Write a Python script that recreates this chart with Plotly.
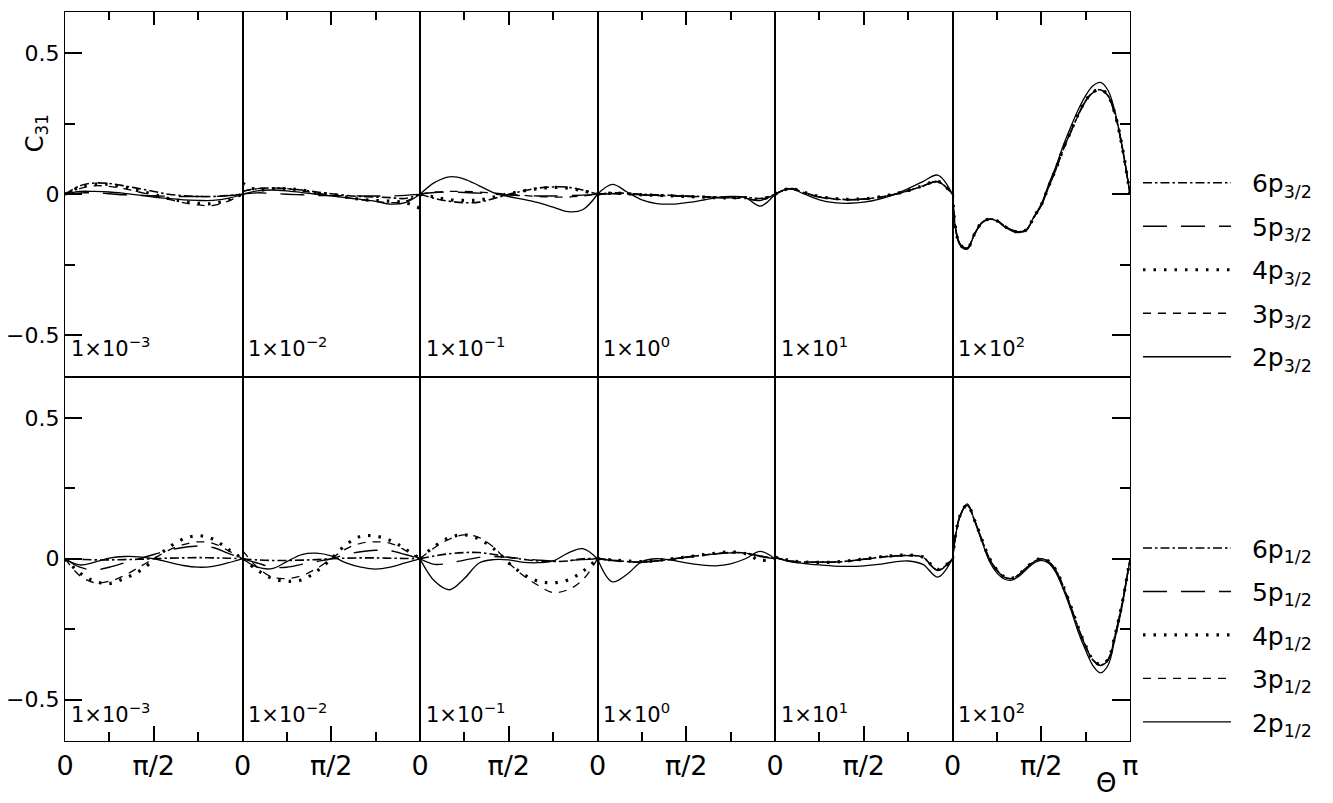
import numpy as np
import plotly.graph_objects as go
from plotly.subplots import make_subplots

PI = np.pi
# theta grids (x values)
THETA = [k * PI / 12 for k in range(13)]        # columns 1-5
THETA_FINE = [k * PI / 24 for k in range(25)]   # column 6

COLUMN_LABELS = ["1×10<sup>−3</sup>", "1×10<sup>−2</sup>", "1×10<sup>−1</sup>",
                 "1×10<sup>0</sup>", "1×10<sup>1</sup>", "1×10<sup>2</sup>"]
SERIES = ["6p", "5p", "4p", "3p", "2p"]
TOP_SUFFIX = "3/2"
BOT_SUFFIX = "1/2"

# ---------------- upper panel (p3/2) ----------------
TOP_2P = [
    [0, 0.010, 0.010, 0.008, 0.003, -0.003, -0.010, -0.015, -0.020, -0.022, -0.022, -0.015, 0],
    [0, 0.012, 0.015, 0.012, 0.006, 0.000, -0.006, -0.012, -0.018, -0.025, -0.035, -0.030, 0],
    [0, 0.042, 0.062, 0.054, 0.030, 0.005, -0.008, -0.018, -0.030, -0.046, -0.062, -0.055, 0],
    [0, 0.035, 0.008, -0.020, -0.033, -0.035, -0.030, -0.022, -0.013, -0.008, -0.012, -0.042, 0],
    [0, 0.020, 0.000, -0.020, -0.030, -0.032, -0.028, -0.018, -0.002, 0.020, 0.045, 0.068, 0],
    [0, -0.180, -0.195, -0.140, -0.100, -0.088, -0.095, -0.115, -0.130, -0.136, -0.128, -0.080,
     -0.035, 0.035, 0.100, 0.175, 0.240, 0.300, 0.350, 0.385, 0.397, 0.370, 0.290, 0.160, 0],
]
TOP_3P = [
    [0, 0.020, 0.030, 0.028, 0.020, 0.008, -0.005, -0.018, -0.030, -0.038, -0.040, -0.025, 0],
    [0.010, 0.020, 0.022, 0.020, 0.012, 0.004, -0.004, -0.012, -0.020, -0.025, -0.030, -0.025, 0],
    [0, 0.008, 0.010, 0.010, 0.008, 0.004, 0.000, -0.004, -0.008, -0.010, -0.010, -0.006, 0],
    [0, 0.003, 0.000, -0.003, -0.005, -0.006, -0.008, -0.010, -0.012, -0.014, -0.015, -0.020, 0],
    [0, 0.018, 0.005, -0.010, -0.017, -0.020, -0.018, -0.012, -0.002, 0.012, 0.030, 0.045, 0],
    [0, -0.175, -0.190, -0.140, -0.100, -0.088, -0.093, -0.112, -0.127, -0.133, -0.125, -0.082,
     -0.040, 0.025, 0.090, 0.160, 0.220, 0.280, 0.330, 0.360, 0.370, 0.350, 0.280, 0.160, 0],
]
TOP_4P = [
    [0, 0.025, 0.035, 0.035, 0.025, 0.012, 0.000, -0.015, -0.025, -0.032, -0.033, -0.020, 0],
    [0.040, 0.015, 0.020, 0.020, 0.015, 0.005, 0.000, -0.010, -0.018, -0.022, -0.025, -0.030, -0.050],
    [0, -0.010, -0.020, -0.022, -0.020, -0.010, 0.002, 0.012, 0.020, 0.024, 0.022, 0.012, 0],
    [0, 0.004, 0.002, -0.002, -0.004, -0.006, -0.008, -0.010, -0.012, -0.013, -0.012, -0.018, 0],
    [0, 0.020, 0.006, -0.008, -0.015, -0.018, -0.016, -0.010, 0.000, 0.013, 0.030, 0.046, 0],
    [0, -0.178, -0.192, -0.140, -0.100, -0.088, -0.094, -0.113, -0.128, -0.134, -0.126, -0.081,
     -0.038, 0.028, 0.092, 0.163, 0.224, 0.284, 0.333, 0.363, 0.372, 0.352, 0.282, 0.160, 0],
]
TOP_5P = [
    [0, 0.005, 0.005, 0.002, -0.002, -0.004, -0.006, -0.007, -0.008, -0.008, -0.008, -0.005, 0],
    [0, 0.005, 0.003, 0.000, -0.002, -0.004, -0.005, -0.005, -0.006, -0.006, -0.006, -0.004, 0],
    [0, 0.006, 0.008, 0.006, 0.004, 0.000, -0.003, -0.005, -0.006, -0.006, -0.005, -0.003, 0],
    [0, 0.002, 0.000, -0.002, -0.004, -0.005, -0.007, -0.009, -0.011, -0.013, -0.016, -0.022, 0],
    [0, 0.019, 0.004, -0.010, -0.016, -0.019, -0.017, -0.011, -0.001, 0.012, 0.029, 0.044, 0],
    [0, -0.176, -0.191, -0.141, -0.101, -0.089, -0.094, -0.112, -0.127, -0.133, -0.125, -0.083,
     -0.040, 0.026, 0.090, 0.161, 0.222, 0.281, 0.331, 0.361, 0.371, 0.351, 0.281, 0.160, 0],
]
TOP_6P = [
    [0, 0.030, 0.040, 0.038, 0.030, 0.020, 0.010, 0.000, -0.005, -0.008, -0.008, -0.005, 0],
    [0.010, 0.020, 0.022, 0.020, 0.015, 0.008, 0.002, -0.004, -0.008, -0.010, -0.012, -0.015, 0],
    [0, -0.015, -0.025, -0.030, -0.028, -0.015, 0.000, 0.012, 0.022, 0.026, 0.025, 0.015, 0],
    [0, 0.005, 0.003, 0.000, -0.002, -0.004, -0.006, -0.008, -0.010, -0.011, -0.010, -0.015, 0],
    [0, 0.021, 0.005, -0.009, -0.016, -0.019, -0.017, -0.011, -0.001, 0.012, 0.029, 0.045, 0],
    [0, -0.177, -0.191, -0.140, -0.100, -0.088, -0.093, -0.113, -0.128, -0.134, -0.126, -0.082,
     -0.039, 0.027, 0.091, 0.162, 0.223, 0.283, 0.332, 0.362, 0.371, 0.351, 0.281, 0.160, 0],
]

# ---------------- lower panel (p1/2) ----------------
BOT_2P = [
    [0, -0.022, -0.012, 0.002, 0.008, 0.007, 0.000, -0.012, -0.024, -0.030, -0.027, -0.015, 0],
    [0, -0.030, -0.035, -0.010, 0.015, 0.020, 0.010, -0.015, -0.030, -0.037, -0.030, -0.015, 0],
    [0, -0.080, -0.110, -0.070, -0.015, -0.003, -0.004, -0.013, -0.014, -0.008, 0.020, 0.036, 0],
    [0, -0.082, -0.055, -0.010, 0.000, -0.005, -0.015, -0.022, -0.025, -0.018, 0.000, 0.026, 0],
    [0.005, -0.010, -0.017, -0.022, -0.026, -0.027, -0.025, -0.020, -0.012, -0.008, -0.020, -0.065, 0],
    [0, 0.150, 0.195, 0.133, 0.060, -0.010, -0.050, -0.072, -0.076, -0.062, -0.038, -0.016,
     -0.006, -0.016, -0.050, -0.110, -0.180, -0.260, -0.325, -0.380, -0.405, -0.380, -0.280, -0.160, 0],
]
BOT_3P = [
    [0, -0.060, -0.085, -0.080, -0.060, -0.030, 0.000, 0.030, 0.050, 0.060, 0.055, 0.030, 0],
    [0.030, -0.030, -0.065, -0.070, -0.060, -0.035, 0.000, 0.035, 0.055, 0.060, 0.055, 0.030, 0],
    [0, 0.040, 0.070, 0.085, 0.075, 0.040, -0.015, -0.060, -0.095, -0.120, -0.110, -0.075, 0],
    [0, -0.005, -0.010, -0.012, -0.008, -0.002, 0.005, 0.012, 0.018, 0.022, 0.020, 0.010, 0],
    [0.005, -0.008, -0.012, -0.012, -0.012, -0.008, -0.002, 0.005, 0.010, 0.012, 0.005, -0.040, 0],
    [0, 0.150, 0.190, 0.135, 0.065, 0.000, -0.040, -0.065, -0.070, -0.056, -0.032, -0.010,
     0.000, -0.010, -0.042, -0.100, -0.170, -0.245, -0.310, -0.360, -0.378, -0.360, -0.270, -0.150, 0],
]
BOT_4P = [
    [0, -0.050, -0.080, -0.088, -0.070, -0.045, -0.005, 0.040, 0.070, 0.082, 0.070, 0.035, 0],
    [0, -0.040, -0.070, -0.080, -0.075, -0.045, 0.000, 0.050, 0.080, 0.080, 0.065, 0.035, 0],
    [0, 0.045, 0.075, 0.085, 0.070, 0.035, -0.015, -0.055, -0.080, -0.085, -0.075, -0.045, 0],
    [0, -0.004, -0.008, -0.010, -0.006, 0.000, 0.006, 0.013, 0.020, 0.024, 0.018, -0.005, 0],
    [0.006, -0.006, -0.012, -0.013, -0.012, -0.007, -0.001, 0.006, 0.011, 0.013, 0.006, -0.038, 0],
    [0, 0.152, 0.191, 0.136, 0.066, 0.001, -0.039, -0.064, -0.069, -0.055, -0.031, -0.009,
     0.001, -0.009, -0.041, -0.099, -0.169, -0.244, -0.309, -0.359, -0.376, -0.358, -0.268, -0.150, 0],
]
BOT_5P = [
    [0, -0.030, -0.040, -0.030, -0.015, 0.000, 0.015, 0.030, 0.040, 0.045, 0.040, 0.020, 0],
    [0, -0.015, -0.030, -0.030, -0.020, -0.010, 0.000, 0.015, 0.025, 0.030, 0.028, 0.015, 0],
    [0, -0.020, -0.015, -0.005, 0.005, 0.008, 0.005, 0.000, -0.005, -0.008, -0.006, -0.003, 0],
    [0, -0.006, -0.011, -0.012, -0.007, -0.001, 0.006, 0.012, 0.017, 0.021, 0.019, 0.008, 0],
    [0.004, -0.008, -0.012, -0.012, -0.011, -0.008, -0.002, 0.004, 0.009, 0.011, 0.004, -0.042, 0],
    [0, 0.150, 0.190, 0.134, 0.064, -0.001, -0.041, -0.066, -0.071, -0.057, -0.033, -0.011,
     -0.001, -0.011, -0.043, -0.101, -0.171, -0.246, -0.311, -0.361, -0.379, -0.361, -0.271, -0.151, 0],
]
BOT_6P = [
    [0, -0.002, -0.004, -0.004, -0.003, -0.002, 0.000, 0.002, 0.003, 0.004, 0.003, 0.002, 0],
    [0, -0.004, -0.006, -0.006, -0.005, -0.003, 0.000, 0.002, 0.003, 0.003, 0.002, 0.001, 0],
    [0, 0.010, 0.018, 0.022, 0.022, 0.015, 0.005, -0.002, -0.008, -0.010, -0.008, 0.000, 0],
    [0, -0.005, -0.010, -0.012, -0.008, -0.002, 0.005, 0.012, 0.018, 0.022, 0.020, 0.010, 0],
    [0.005, -0.008, -0.012, -0.012, -0.012, -0.008, -0.002, 0.005, 0.010, 0.012, 0.005, -0.040, 0],
    [0, 0.151, 0.190, 0.135, 0.065, 0.000, -0.040, -0.065, -0.070, -0.056, -0.032, -0.010,
     0.000, -0.010, -0.042, -0.100, -0.170, -0.245, -0.310, -0.360, -0.377, -0.359, -0.269, -0.150, 0],
]

TOP_DATA = {"6p": TOP_6P, "5p": TOP_5P, "4p": TOP_4P, "3p": TOP_3P, "2p": TOP_2P}
BOT_DATA = {"6p": BOT_6P, "5p": BOT_5P, "4p": BOT_4P, "3p": BOT_3P, "2p": BOT_2P}

# ---------------- styles ----------------
FONT = "DejaVu Sans"
LINE_STYLE = {
    "6p": dict(color="black", width=1.6, dash="9px,3px,2.5px,3px"),
    "5p": dict(color="black", width=1.4, dash="24px,14px"),
    "4p": dict(color="black", width=3.2, dash="2.5px,8px"),
    "3p": dict(color="black", width=1.3, dash="8px,7px"),
    "2p": dict(color="black", width=1.3),
}
YRANGE = [-0.647, 0.647]
NBSP = "\u00a0"

fig = make_subplots(rows=2, cols=6, horizontal_spacing=0, vertical_spacing=0)

for row, data, suffix, legname in [(1, TOP_DATA, TOP_SUFFIX, "legend"),
                                   (2, BOT_DATA, BOT_SUFFIX, "legend2")]:
    for col in range(1, 7):
        xs = THETA_FINE if col == 6 else THETA
        for rank, s in enumerate(SERIES):
            fig.add_trace(go.Scatter(
                x=xs, y=data[s][col - 1], mode="lines",
                line=dict(shape="spline", smoothing=1.0, **LINE_STYLE[s]),
                name=f"{NBSP * 2}{s}<sub>{suffix}</sub>",
                legend=legname, legendgroup=f"{row}-{s}", legendrank=rank + 1,
                showlegend=(col == 1), hoverinfo="skip",
            ), row=row, col=col)

axis_line = dict(showline=True, linecolor="black", linewidth=1.2, mirror=True,
                 showgrid=False, zeroline=False, automargin=False)

XTICK_FONT = dict(family=FONT, size=27, color="black")
YTICK_FONT = dict(family=FONT, size=22, color="black")

for row in (1, 2):
    for col in range(1, 7):
        if row == 1:
            fig.update_xaxes(range=[0, PI], side="top", ticks="inside",
                             tickvals=[PI / 2], ticklen=13, tickwidth=1.5, tickcolor="black",
                             showticklabels=False,
                             minor=dict(ticks="inside", tickvals=[PI / 4, 3 * PI / 4],
                                        ticklen=8, tickwidth=1.5, tickcolor="black"),
                             row=row, col=col, **axis_line)
        else:
            tv = [0, PI / 2] + ([PI] if col == 6 else [])
            tt = ["0", "π/2"] + (["π"] if col == 6 else [])
            fig.update_xaxes(range=[0, PI], side="bottom", ticks="inside",
                             tickvals=tv, ticktext=tt, ticklen=15, tickwidth=1.5,
                             tickcolor="black", showticklabels=True,
                             tickfont=XTICK_FONT,
                             minor=dict(ticks="inside", tickvals=[PI / 4, 3 * PI / 4],
                                        ticklen=9, tickwidth=1.5, tickcolor="black"),
                             row=row, col=col, **axis_line)
        if col == 1:
            fig.update_yaxes(range=YRANGE, side="left", ticks="inside",
                             tickvals=[-0.5, 0, 0.5], ticktext=["−0.5", "0", "0.5"],
                             ticklen=17, tickwidth=1.5, tickcolor="black",
                             tickfont=YTICK_FONT,
                             minor=dict(ticks="inside", tickvals=[-0.25, 0.25],
                                        ticklen=10, tickwidth=1.5, tickcolor="black"),
                             row=row, col=col, **axis_line)
        elif col == 6:
            fig.update_yaxes(range=YRANGE, side="right", ticks="inside",
                             tickvals=[-0.5, 0, 0.5], ticklen=18, tickwidth=1.5,
                             tickcolor="black", showticklabels=False,
                             minor=dict(ticks="inside", tickvals=[-0.25, 0.25],
                                        ticklen=10, tickwidth=1.5, tickcolor="black"),
                             row=row, col=col, **axis_line)
        else:
            fig.update_yaxes(range=YRANGE, ticks="", showticklabels=False,
                             row=row, col=col, **axis_line)

# column labels
annotations = []
for row in (1, 2):
    for col in range(1, 7):
        idx = (row - 1) * 6 + col
        suffix = "" if idx == 1 else str(idx)
        annotations.append(dict(
            text=COLUMN_LABELS[col - 1], xref=f"x{suffix} domain", yref=f"y{suffix} domain",
            x=0.02, y=0.082 if row == 1 else 0.077, xanchor="left", yanchor="middle",
            showarrow=False, font=dict(family=FONT, size=21, color="black")))

# axis titles
annotations.append(dict(text="C<sub>31</sub>", xref="paper", yref="paper",
                        x=-0.027, y=0.834, textangle=-90, showarrow=False,
                        xanchor="center", yanchor="middle",
                        font=dict(family=FONT, size=24, color="black")))
annotations.append(dict(text="Θ", xref="paper", yref="paper",
                        x=0.977, y=-0.058, showarrow=False,
                        xanchor="center", yanchor="middle",
                        font=dict(family=FONT, size=26, color="black")))

legend_common = dict(xanchor="left", yanchor="top", bgcolor="rgba(0,0,0,0)",
                     font=dict(family=FONT, size=25, color="black"),
                     itemwidth=88, tracegroupgap=8, traceorder="grouped")

fig.update_layout(
    width=1333, height=803,
    margin=dict(l=65, r=203, t=12, b=62, autoexpand=False),
    paper_bgcolor="white", plot_bgcolor="white",
    showlegend=True,
    legend=dict(x=1.0075, y=0.797, **legend_common),
    legend2=dict(x=1.0075, y=0.296, **legend_common),
    annotations=annotations,
)

fig.write_html("out.html")
